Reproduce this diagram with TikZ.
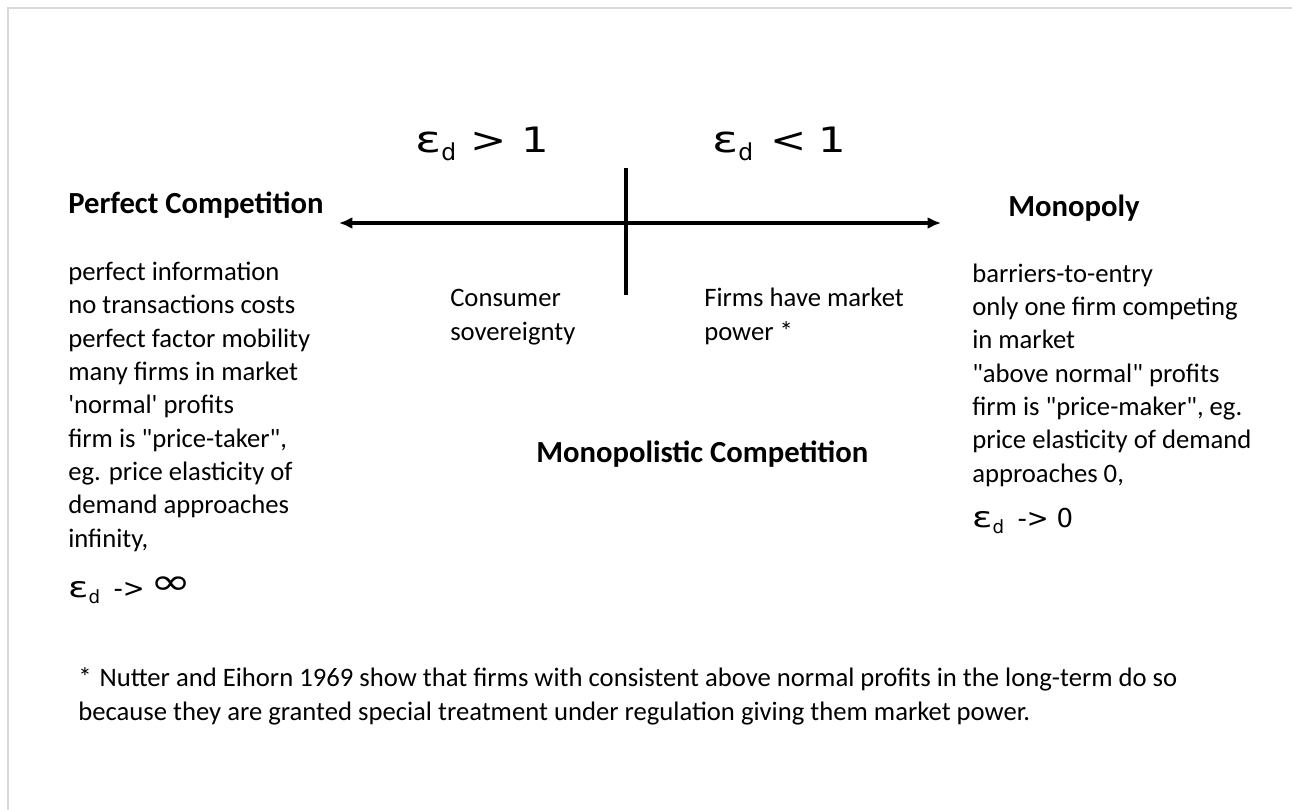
\documentclass[tikz,border=0pt]{standalone}
\usepackage{fontspec}
\setmainfont{Carlito}[Ligatures=TeXOff]
\newfontfamily\epsfont{DejaVu Sans}[Ligatures=TeXOff]
\usetikzlibrary{arrows.meta}

\begin{document}
\begin{tikzpicture}[x=0.75pt,y=-0.75pt,title/.style={anchor=base west,inner sep=0pt,font=\bfseries\fontsize{23}{28}\selectfont},item/.style={anchor=base west,inner sep=0pt,align=left,font=\fontsize{20}{25}\selectfont},eps/.style={anchor=base west,inner sep=0pt,font=\epsfont\fontsize{25}{30}\selectfont},epsS/.style={eps,font=\epsfont\fontsize{19.5}{24}\selectfont},axis/.style={line width=2.4pt},tip/.style={-{Latex[length=10pt,width=9pt]}}]
\def\epsd{\scalebox{1.45}[1.1]{ε}\raisebox{-0.25em}{\scalebox{0.7}{d}}}
\def\wide#1{\scalebox{1.3}[1.05]{#1}}

\useasboundingbox (0,0) rectangle (1292,810);
\draw[line width=1.5pt,black!15] (8,810) -- (8,8) -- (1292,8);

% elasticity axis
\coordinate (axisL) at (339,223);
\coordinate (axisR) at (941,223);
\coordinate (axisM) at (626,223);
\coordinate (divT) at (626,168);
\coordinate (divB) at (626,295);
\draw[axis,tip] (axisM) -- (axisL);
\draw[axis,tip] (axisM) -- (axisR);
\draw[axis] (divT) -- (divB);

\node[eps] (elastic) at (415,152) {\epsd\hspace{11pt}\wide{>}\hspace{11pt}\wide{1}};
\node[eps] (inelastic) at (712,152) {\epsd\hspace{13pt}\wide{<}\hspace{9pt}\wide{1}};

% market types
\node[title] (perfect) at (68,213) {Perfect Competition};
\node[title] (mono) at (1008,216) {Monopoly};
\node[title] (monocomp) at (536,462) {Monopolistic Competition};

% lists (anchored at last baseline)
\node[item] (perfectL) at (68,547) {perfect information\\no transactions costs\\perfect factor mobility\\many firms in market\\'normal' profits\\firm is "price-taker",\\eg. price elasticity of\\demand approaches\\infinity,};
\node[item] (monoL) at (972,482) {barriers-to-entry\\only one firm competing\\in market\\"above normal" profits\\firm is "price-maker", eg.\\price elasticity of demand\\approaches 0,};
\node[epsS] (inf) at (68,597) {\epsd\hspace{10pt}->\hspace{4pt}\raisebox{2pt}{\scalebox{1.9}[1.4]{∞}}};
\node[epsS] (zero) at (972,527) {\epsd\hspace{10pt}->\hspace{6pt}0};

\node[item] (consumer) at (450,340) {Consumer\\sovereignty};
\node[item] (power) at (704,340) {Firms have market\\power *};

% footnote
\node[item,font=\fontsize{20}{25.5}\selectfont] (note) at (78,720) {*\hspace{6pt}Nutter and Eihorn 1969 show that firms with consistent above normal profits in the long-term do so\\because they are granted special treatment under regulation giving them market power.};
\end{tikzpicture}
\end{document}
